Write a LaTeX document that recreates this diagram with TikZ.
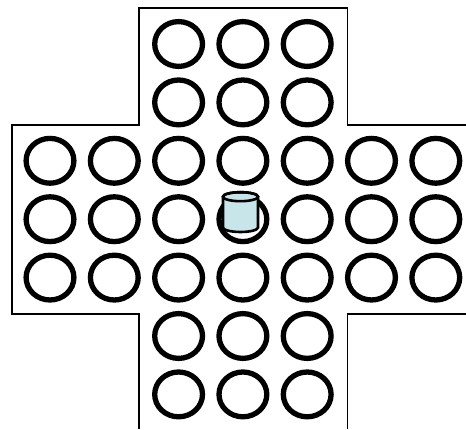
\documentclass[tikz,border=0pt]{standalone}
\usepackage{tikz}
\definecolor{pegblue}{RGB}{200,230,234}
\tikzset{hole/.style={line width=5.3pt}, board/.style={line width=1.8pt}}

\begin{document}
\begin{tikzpicture}[x=1pt, y=1pt]
	\useasboundingbox (0,0) rectangle (466,429);
	\draw[board] (466,304) -- (347.5,304) -- (347.5,421) -- (139,421) -- (139,304) -- (12,304) -- (12,115) -- (139,115) -- (139,0);
	\draw[board] (347.5,0) -- (347.5,115) -- (466,115);
	\foreach \j/\cols in {0/{2,3,4}, 1/{2,3,4}, 2/{0,...,6}, 3/{0,...,6}, 4/{0,...,6}, 5/{2,3,4}, 6/{2,3,4}} {
		\foreach \i in \cols
			\draw[hole] ({50+64.3*\i},{385-58.4*\j}) ellipse (23.9 and 22.4);
	}
	\filldraw[fill=pegblue, line width=2.6pt] (223,232.3) -- (223,201.5) arc (180:360:17.5 and 4.5) -- (258,232.3) arc (0:180:17.5 and 4.5) -- cycle;
	\draw[line width=2.6pt] (240.5,232.3) ellipse (17.5 and 4.5);
\end{tikzpicture}
\end{document}
